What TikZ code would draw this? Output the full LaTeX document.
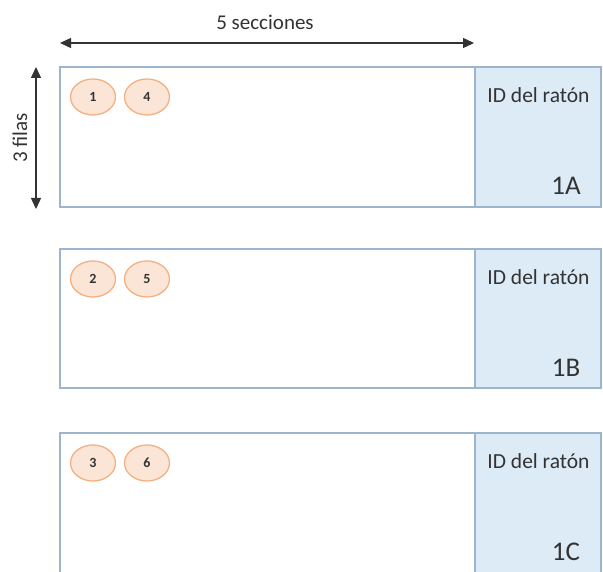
\documentclass[tikz,border=0pt]{standalone}
\usepackage{fontspec}
\setmainfont{Carlito}
\usetikzlibrary{arrows.meta,shapes.geometric}
\definecolor{boxline}{HTML}{9CB4CC}
\definecolor{idfill}{HTML}{DDEBF7}
\definecolor{dotfill}{HTML}{FBE5D6}
\definecolor{dotline}{HTML}{F4B183}
\definecolor{txt}{HTML}{333333}
\tikzset{
  cage/.style={draw=boxline, line width=1.1pt, fill=white},
  idpanel/.style={draw=boxline, line width=1.1pt, fill=idfill},
  mouse/.style={ellipse, draw=dotline, line width=1.3pt, fill=dotfill,
    minimum width=45pt, minimum height=36pt, inner sep=0pt,
    text=txt, font=\fontsize{14}{16}\selectfont\bfseries},
  idlabel/.style={text=txt, font=\fontsize{21.5}{25}\selectfont},
  cagelabel/.style={text=txt, font=\fontsize{27}{31}\selectfont},
  dim/.style={line width=1.4pt, draw=black!80, {Triangle[length=11pt,width=10pt]}-{Triangle[length=11pt,width=10pt]}},
  dimlabel/.style={text=txt, font=\fontsize{21}{25}\selectfont}
}
\begin{document}
\begin{tikzpicture}[x=1pt,y=-1pt]
\useasboundingbox (0,0) rectangle (603,572);

% dimension arrows
\coordinate (hl) at (60,43);
\coordinate (hr) at (474,43);
\draw[dim] (hl) -- (hr);
\node[dimlabel] (secc) at (265,22) {5 secciones};
\coordinate (vt) at (36,67);
\coordinate (vb) at (36,209);
\draw[dim] (vt) -- (vb);
\node[dimlabel, rotate=90] (filas) at (20,138) {3 filas};

% three cages: open area plus ID panel on the right
\foreach \row/\top/\bot/\a/\b/\id in {1/67/207/1/4/1A, 2/249/388/2/5/1B, 3/433/580/3/6/1C}{
  \draw[cage] (60,\top) rectangle (475,\bot);
  \draw[idpanel] (475,\top) rectangle (601,\bot);
  \node[idlabel] (id\row) at (538.5,\top+28) {ID del ratón};
  \node[cagelabel] (cage\row) at (566,\top+119) {\id};
  \node[mouse] (m\row a) at (93,\top+30) {\a};
  \node[mouse] (m\row b) at (147,\top+30) {\b};
}
\end{tikzpicture}
\end{document}
